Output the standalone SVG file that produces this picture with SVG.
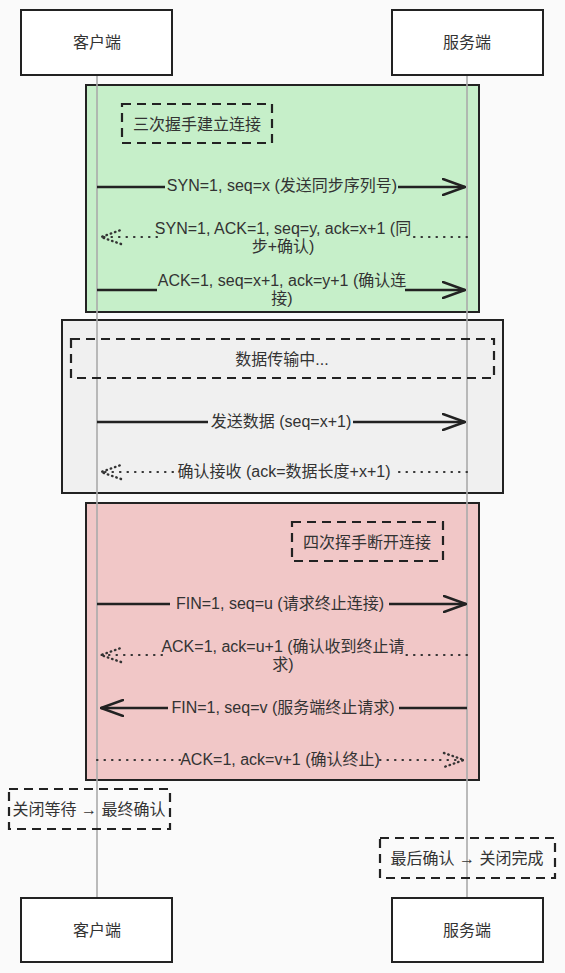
<svg xmlns="http://www.w3.org/2000/svg" width="565" height="973" viewBox="0 0 565 973">
<defs>
<style>
.t{font-family:"Liberation Sans","Noto Sans CJK SC",sans-serif;font-size:16px;fill:#333;text-anchor:middle;dominant-baseline:central}
.actor{fill:#ffffff;stroke:#222;stroke-width:2}
.life{stroke:#aaa;stroke-width:1.6}
.note{fill:none;stroke:#222;stroke-width:2.2;stroke-dasharray:9 6}
.solid{stroke:#222;stroke-width:2.5;fill:none}
.dot{stroke:#333;stroke-width:2.2;fill:none;stroke-dasharray:0.5 7;stroke-linecap:round}
.box{stroke:#222;stroke-width:2}
</style>
<marker id="arr" viewBox="0 0 24 18" refX="23" refY="9" markerWidth="24" markerHeight="18" markerUnits="userSpaceOnUse" orient="auto">
<path d="M1,1 L23,9 L1,17" fill="none" stroke="#222" stroke-width="2.5" stroke-linecap="round"/>
</marker>
<marker id="arrd" viewBox="0 0 24 18" refX="23" refY="9" markerWidth="24" markerHeight="18" markerUnits="userSpaceOnUse" orient="auto">
<path d="M3,2 L23,9 L3,16" fill="none" stroke="#333" stroke-width="2.4" stroke-dasharray="0.5 4" stroke-linecap="round"/>
</marker>
</defs>
<rect x="0" y="0" width="565" height="973" fill="#fafafa"/>

<g id="regions">
<rect id="handshake" class="box" x="86" y="85" width="393" height="227" fill="#c6efc9"/>
<rect id="transfer" class="box" x="62" y="320" width="441" height="173" fill="#f0f0f0"/>
<rect id="teardown" class="box" x="86" y="503" width="393" height="277" fill="#f1c7c7"/>
</g>

<g id="lifelines">
<line class="life" x1="97" y1="75" x2="97" y2="898"/>
<line class="life" x1="467" y1="75" x2="467" y2="898"/>
</g>

<g id="client-top"><rect class="actor" x="21" y="10" width="151" height="65"/><text class="t" x="97" y="42">客户端</text></g>
<g id="server-top"><rect class="actor" x="392" y="10" width="151" height="65"/><text class="t" x="467" y="42">服务端</text></g>
<g id="client-bottom"><rect class="actor" x="21" y="898" width="151" height="64"/><text class="t" x="97" y="930">客户端</text></g>
<g id="server-bottom"><rect class="actor" x="392" y="898" width="151" height="64"/><text class="t" x="467" y="930">服务端</text></g>

<g id="note-handshake"><rect class="note" x="122" y="104" width="150" height="39"/><text class="t" x="197" y="124">三次握手建立连接</text></g>
<g id="note-transfer"><rect class="note" x="71" y="339" width="423" height="39"/><text class="t" x="282" y="359">数据传输中...</text></g>
<g id="note-teardown"><rect class="note" x="292" y="522" width="151" height="39"/><text class="t" x="367" y="542">四次挥手断开连接</text></g>
<g id="note-client-wait"><rect class="note" x="9" y="789" width="161" height="40"/><text class="t" x="89" y="809">关闭等待 → 最终确认</text></g>
<g id="note-server-close"><rect class="note" x="380" y="838" width="175" height="40"/><text class="t" x="467" y="858">最后确认 → 关闭完成</text></g>

<g id="connectors">
<line class="solid" x1="97" y1="187" x2="165" y2="187"/>
<line class="solid" x1="398" y1="187" x2="465" y2="187" marker-end="url(#arr)"/>
<text class="t" x="282" y="185">SYN=1, seq=x (发送同步序列号)</text>

<line class="dot" x1="467" y1="237" x2="410" y2="237"/>
<line class="dot" x1="157" y1="237" x2="101" y2="237" marker-end="url(#arrd)"/>
<text class="t" x="283" y="228">SYN=1, ACK=1, seq=y, ack=x+1 (同</text>
<text class="t" x="283" y="246">步+确认)</text>

<line class="solid" x1="97" y1="290" x2="157" y2="290"/>
<line class="solid" x1="405" y1="290" x2="465" y2="290" marker-end="url(#arr)"/>
<text class="t" x="282" y="280">ACK=1, seq=x+1, ack=y+1 (确认连</text>
<text class="t" x="282" y="298">接)</text>

<line class="solid" x1="97" y1="422" x2="208" y2="422"/>
<line class="solid" x1="353" y1="422" x2="465" y2="422" marker-end="url(#arr)"/>
<text class="t" x="281" y="421">发送数据 (seq=x+1)</text>

<line class="dot" x1="467" y1="472" x2="395" y2="472"/>
<line class="dot" x1="173" y1="472" x2="101" y2="472" marker-end="url(#arrd)"/>
<text class="t" x="284" y="471">确认接收 (ack=数据长度+x+1)</text>

<line class="solid" x1="97" y1="604" x2="170" y2="604"/>
<line class="solid" x1="389" y1="604" x2="466" y2="604" marker-end="url(#arr)"/>
<text class="t" x="280" y="603">FIN=1, seq=u (请求终止连接)</text>

<line class="dot" x1="467" y1="655" x2="405" y2="655"/>
<line class="dot" x1="162" y1="655" x2="101" y2="655" marker-end="url(#arrd)"/>
<text class="t" x="283" y="646">ACK=1, ack=u+1 (确认收到终止请</text>
<text class="t" x="283" y="664">求)</text>

<line class="solid" x1="467" y1="708" x2="399" y2="708"/>
<line class="solid" x1="168" y1="708" x2="101" y2="708" marker-end="url(#arr)"/>
<text class="t" x="283" y="707">FIN=1, seq=v (服务端终止请求)</text>

<line class="dot" x1="97" y1="760" x2="180" y2="760"/>
<line class="dot" x1="380" y1="760" x2="464" y2="760" marker-end="url(#arrd)"/>
<text class="t" x="280" y="759">ACK=1, ack=v+1 (确认终止)</text>
</g>
</svg>
